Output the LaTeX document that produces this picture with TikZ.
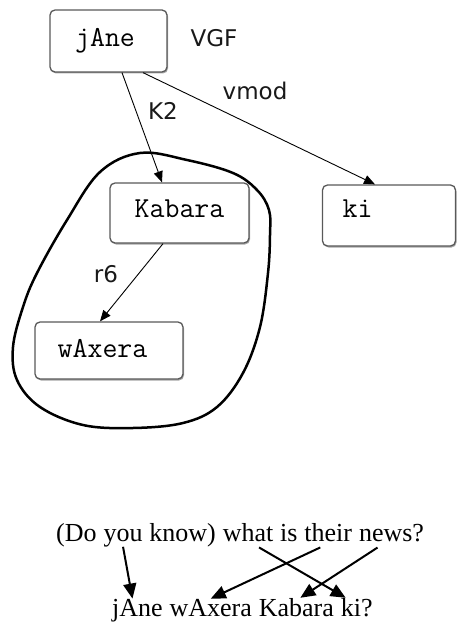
\documentclass[tikz,border=0pt]{standalone}
\usepackage{fontspec}
\setmainfont{Liberation Serif}
\newfontfamily\labelfam{DejaVu Sans}
\usetikzlibrary{arrows.meta,shadows}
\begin{document}
\begin{tikzpicture}[x=1pt,y=-1pt,
  box/.style={draw=black!65, line width=1.3pt, rounded corners=5pt, fill=white,
    inner sep=0pt,
    drop shadow={shadow xshift=1pt, shadow yshift=-1.5pt, fill=black!35, opacity=1}},
  boxtext/.style={inner sep=0pt, anchor=base, font=\ttfamily\fontsize{29}{33}\selectfont},
  deplabel/.style={inner sep=0pt, anchor=base, text=black!90, font=\labelfam\fontsize{23}{27}\selectfont},
  dep/.style={line width=0.9pt, -{Triangle[length=11pt,width=9pt]}},
  ring/.style={line width=2.5pt},
  word/.style={inner sep=0pt, anchor=base west, font=\fontsize{26}{30}\selectfont},
  align/.style={line width=2pt, -{Triangle[length=15pt,width=13pt]}},
]
\useasboundingbox (0,0) rectangle (457,628);

% dependency tree boxes
\node[box, minimum width=117pt, minimum height=62pt] (jAne) at (108.5,41) {};
\node[box, minimum width=139pt, minimum height=60pt] (Kabara) at (179.5,213) {};
\node[box, minimum width=133pt, minimum height=61pt] (ki) at (389,215.5) {};
\node[box, minimum width=148pt, minimum height=57pt] (wAxera) at (109,350.5) {};

\node[boxtext] (jAne-t) at (105,47) {jAne};
\node[boxtext] (Kabara-t) at (179.5,217) {Kabara};
\node[boxtext] (ki-t) at (357.5,218) {ki};
\node[boxtext] (wAxera-t) at (102.5,357) {wAxera};

% relation labels
\node[deplabel] (vgf) at (214,47) {VGF};
\node[deplabel] (vmod) at (255,100) {vmod};
\node[deplabel] (k2) at (163,120) {K2};
\node[deplabel] (r6) at (106,282) {r6};

% dependency arcs
\draw[dep] ([xshift=13.5pt]jAne.south) -- ([xshift=-17.5pt]Kabara.north);
\draw[dep] ([xshift=34.5pt]jAne.south) -- ([xshift=-14pt]ki.north);
\draw[dep] ([xshift=-16.5pt]Kabara.south) -- ([xshift=-9pt]wAxera.north);

% chunk boundary around Kabara and wAxera
\draw[ring] plot[smooth cycle, tension=0.6] coordinates {
  (140,153) (187,160) (233,173) (257,190) (269,210) (270,235) (268,273)
  (260,327) (243,373) (217,407) (183,423) (133,428) (83,425) (40,407)
  (17,380) (13,347) (23,307) (37,273) (67,220) (100,172)};

% English sentence
\node[word] (e1) at (56,541) {(Do};
\node[word] (e2) at ([xshift=6.5pt]e1.base east) {you};
\node[word] (e3) at ([xshift=6.5pt]e2.base east) {know)};
\node[word] (e4) at ([xshift=6.5pt]e3.base east) {what};
\node[word] (e5) at ([xshift=6.5pt]e4.base east) {is};
\node[word] (e6) at ([xshift=6.5pt]e5.base east) {their};
\node[word] (e7) at ([xshift=6.5pt]e6.base east) {news?};

% Hindi (WX) sentence
\node[word] (h1) at (112,616) {jAne};
\node[word] (h2) at ([xshift=6.5pt]h1.base east) {wAxera};
\node[word] (h3) at ([xshift=6.5pt]h2.base east) {Kabara};
\node[word] (h4) at ([xshift=6.5pt]h3.base east) {ki?};

% word alignments
\draw[align] (e2.south) -- ([xshift=-5pt]h1.north);
\draw[align] ([xshift=11pt,yshift=-6pt]e4.south) -- ([xshift=-11pt]h4.north);
\draw[align] ([xshift=-8pt,yshift=-6pt]e6.south) -- (h2.north);
\draw[align] ([xshift=-14pt,yshift=-6pt]e7.south) -- ([xshift=4pt]h3.north);
\end{tikzpicture}
\end{document}
